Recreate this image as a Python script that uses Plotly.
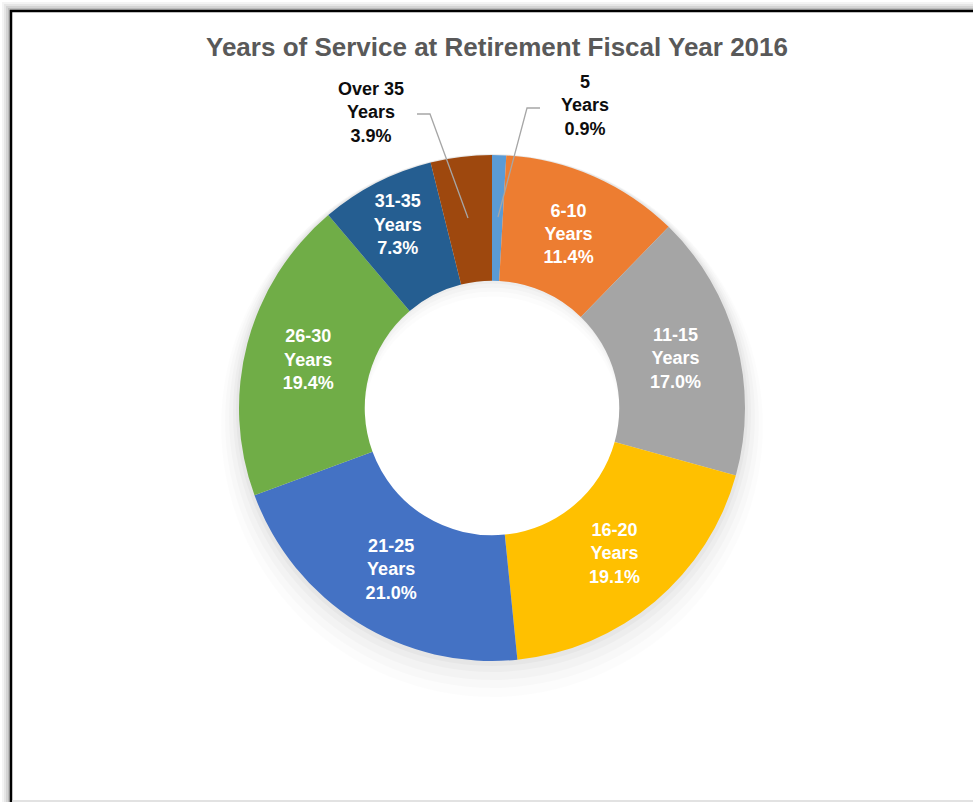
import plotly.graph_objects as go

# ---- data ----
categories = ["5<br>Years", "6-10<br>Years", "11-15<br>Years", "16-20<br>Years",
              "21-25<br>Years", "26-30<br>Years", "31-35<br>Years", "Over 35<br>Years"]
shares = [0.9, 11.4, 17.0, 19.1, 21.0, 19.4, 7.3, 3.9]
colors = ["#5B9BD5", "#ED7D31", "#A5A5A5", "#FFC000",
          "#4472C4", "#70AD47", "#255E91", "#9E480E"]
outside_labels = {0, 7}

W, H = 973, 802
OFF = 0
cx, cy, R = 492, 408, 253
hole = 0.503
FONT = "Liberation Sans, Arial, sans-serif"


def px(x):
    return (x - OFF) / W


def py(y):
    return 1 - (y - OFF) / H


def dom(cxp, cyp, r):
    return dict(x=[px(cxp - r), px(cxp + r)], y=[py(cyp + r), py(cyp - r)])


fig = go.Figure()

# soft shadow layers behind the donut
for k, (dr, dy, op) in enumerate([(18, 18, 0.010), (14, 13, 0.014), (10, 9, 0.018),
                                  (6, 5, 0.022), (3, 2, 0.028)]):
    fig.add_trace(go.Pie(
        values=[1], labels=["s%d" % k], marker=dict(colors=["rgba(0,0,0,%s)" % op], line=dict(width=0)),
        hole=(R * hole + 2) / (R + dr), domain=dom(cx, cy + dy, R + dr),
        textinfo="none", hoverinfo="skip", showlegend=False, sort=False,
    ))

texttemplate = ["" if i in outside_labels else "<b>%{label}<br>%{value:.1f}%</b>"
                for i in range(len(shares))]
textpos = ["none" if i in outside_labels else "inside" for i in range(len(shares))]

fig.add_trace(go.Pie(
    labels=categories, values=shares, sort=False, direction="clockwise", rotation=0,
    hole=hole, domain=dom(cx, cy, R),
    marker=dict(colors=colors, line=dict(width=0)),
    texttemplate=texttemplate, textposition=textpos,
    insidetextorientation="horizontal",
    insidetextfont=dict(family=FONT, size=18, color="white"),
    showlegend=False, hoverinfo="label+value",
))

# outside labels
fig.add_annotation(x=px(585), y=py(106), xref="paper", yref="paper",
                   xanchor="center", yanchor="middle",
                   text="<b>5<br>Years<br>0.9%</b>", showarrow=False, align="center",
                   font=dict(family=FONT, size=18, color="#0d0d0d"))
fig.add_annotation(x=px(371), y=py(113), xref="paper", yref="paper",
                   xanchor="center", yanchor="middle",
                   text="<b>Over 35<br>Years<br>3.9%</b>", showarrow=False, align="center",
                   font=dict(family=FONT, size=18, color="#0d0d0d"))


def path(pts):
    return "M " + " L ".join("%f,%f" % (px(x), py(y)) for x, y in pts)


fig.add_shape(type="path", xref="paper", yref="paper",
              path=path([(540, 108), (527, 108), (498, 217)]),
              line=dict(color="#A6A6A6", width=1.3))
fig.add_shape(type="path", xref="paper", yref="paper",
              path=path([(417, 114), (430, 114), (468, 218)]),
              line=dict(color="#A6A6A6", width=1.3))

# frame with a soft shadow on the left / top
for i, c in enumerate(["#f4f4f4", "#e6e6e6", "#d4d4d4", "#bdbdbd"]):
    d = (4 - i) * 2
    fig.add_shape(type="path", xref="paper", yref="paper",
                  path=path([(11 - d, 805), (11 - d, 11 - d), (980, 11 - d)]),
                  line=dict(color=c, width=2), layer="below")
fig.add_shape(type="path", xref="paper", yref="paper",
              path=path([(11, 805), (11, 11), (980, 11)]),
              line=dict(color="#000000", width=2.5))
fig.add_shape(type="path", xref="paper", yref="paper",
              path=path([(12, 801), (980, 801)]),
              line=dict(color="#d9d9d9", width=1.5))

fig.update_layout(
    width=W, height=H,
    margin=dict(l=0, r=0, t=0, b=0),
    paper_bgcolor="white", plot_bgcolor="white",
    title=dict(text="<b>Years of Service at Retirement Fiscal Year 2016</b>",
               x=px(497), xanchor="center", y=py(47), yanchor="middle", yref="container",
               font=dict(family=FONT, size=26, color="#595959")),
)

fig.write_html(
    "out.html",
    config={"displayModeBar": False},
    post_script="document.body.style.margin='0';document.body.style.overflow='hidden';",
)
